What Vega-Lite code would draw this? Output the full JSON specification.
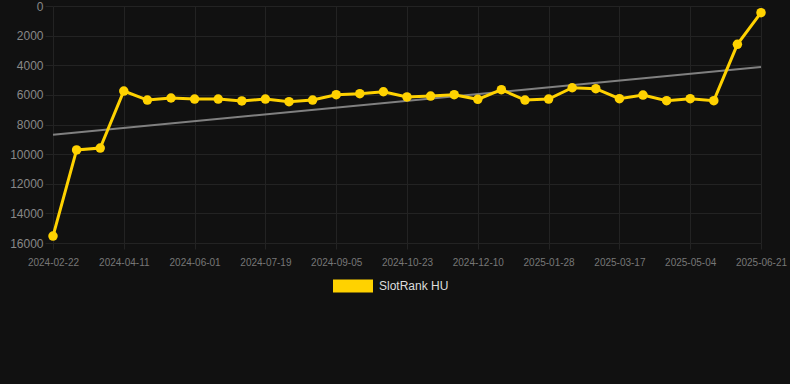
{
  "$schema": "https://vega.github.io/schema/vega-lite/v6.json",
  "width": 708,
  "height": 237,
  "autosize": {"type": "none"},
  "padding": {"left": 53, "top": 6, "right": 29, "bottom": 141},
  "background": "#111111",
  "config": {
    "view": {"stroke": null},
    "font": "Liberation Sans",
    "axis": {"gridColor": "#232323", "gridWidth": 1, "domain": false, "tickColor": "#232323", "labelFont": "Liberation Sans", "labelOverlap": false, "labelBound": false}
  },
  "datasets": {
    "main": [
      {"date": "2024-02-22", "rank": 15530, "series": "SlotRank HU"},
      {"date": "2024-03-09", "rank": 9720, "series": "SlotRank HU"},
      {"date": "2024-03-26", "rank": 9590, "series": "SlotRank HU"},
      {"date": "2024-04-11", "rank": 5740, "series": "SlotRank HU"},
      {"date": "2024-04-28", "rank": 6350, "series": "SlotRank HU"},
      {"date": "2024-05-15", "rank": 6210, "series": "SlotRank HU"},
      {"date": "2024-06-01", "rank": 6280, "series": "SlotRank HU"},
      {"date": "2024-06-17", "rank": 6280, "series": "SlotRank HU"},
      {"date": "2024-07-03", "rank": 6410, "series": "SlotRank HU"},
      {"date": "2024-07-19", "rank": 6280, "series": "SlotRank HU"},
      {"date": "2024-08-04", "rank": 6460, "series": "SlotRank HU"},
      {"date": "2024-08-20", "rank": 6350, "series": "SlotRank HU"},
      {"date": "2024-09-05", "rank": 5990, "series": "SlotRank HU"},
      {"date": "2024-09-21", "rank": 5920, "series": "SlotRank HU"},
      {"date": "2024-10-07", "rank": 5790, "series": "SlotRank HU"},
      {"date": "2024-10-23", "rank": 6140, "series": "SlotRank HU"},
      {"date": "2024-11-08", "rank": 6080, "series": "SlotRank HU"},
      {"date": "2024-11-24", "rank": 5990, "series": "SlotRank HU"},
      {"date": "2024-12-10", "rank": 6300, "series": "SlotRank HU"},
      {"date": "2024-12-26", "rank": 5650, "series": "SlotRank HU"},
      {"date": "2025-01-11", "rank": 6350, "series": "SlotRank HU"},
      {"date": "2025-01-28", "rank": 6280, "series": "SlotRank HU"},
      {"date": "2025-02-13", "rank": 5520, "series": "SlotRank HU"},
      {"date": "2025-03-01", "rank": 5580, "series": "SlotRank HU"},
      {"date": "2025-03-17", "rank": 6260, "series": "SlotRank HU"},
      {"date": "2025-04-02", "rank": 6010, "series": "SlotRank HU"},
      {"date": "2025-04-18", "rank": 6390, "series": "SlotRank HU"},
      {"date": "2025-05-04", "rank": 6260, "series": "SlotRank HU"},
      {"date": "2025-05-20", "rank": 6390, "series": "SlotRank HU"},
      {"date": "2025-06-05", "rank": 2590, "series": "SlotRank HU"},
      {"date": "2025-06-21", "rank": 450, "series": "SlotRank HU"}
    ],
    "trend": [
      {"date": "2024-02-22", "rank": 8690},
      {"date": "2025-06-21", "rank": 4120}
    ]
  },
  "encoding": {
    "x": {
      "field": "date", "type": "ordinal", "sort": "ascending",
      "scale": {"type": "point", "padding": 0},
      "axis": {
        "title": null, "labelAngle": 0, "labelAlign": "center",
        "values": ["2024-02-22","2024-04-11","2024-06-01","2024-07-19","2024-09-05","2024-10-23","2024-12-10","2025-01-28","2025-03-17","2025-05-04","2025-06-21"],
        "labelColor": "#777777", "labelFontSize": 10, "tickSize": 6, "labelPadding": 8, "grid": true
      }
    },
    "y": {
      "field": "rank", "type": "quantitative",
      "scale": {"domain": [0, 16000], "reverse": true, "nice": false},
      "axis": {"title": null, "values": [0,2000,4000,6000,8000,10000,12000,14000,16000], "format": "d", "labelBaseline": "middle", "labelColor": "#888888", "labelFontSize": 12, "tickSize": 8, "labelPadding": 2, "grid": true}
    }
  },
  "layer": [
    {
      "data": {"name": "trend"},
      "mark": {"type": "line", "color": "#808080", "strokeWidth": 2}
    },
    {
      "data": {"name": "main"},
      "mark": {"type": "line", "strokeWidth": 3, "point": {"filled": true, "size": 90, "opacity": 1}},
      "encoding": {
        "color": {
          "field": "series", "type": "nominal",
          "scale": {"range": ["#FFD200"]},
          "legend": {
            "title": null, "orient": "none", "legendX": 280, "legendY": 260,
            "symbolType": "M-1,-0.325H1V0.325H-1Z", "symbolSize": 1600,
            "symbolFillColor": "#FFD200", "symbolStrokeWidth": 0,
            "labelColor": "#dddddd", "labelFontSize": 12, "labelOffset": 6
          }
        }
      }
    }
  ]
}
